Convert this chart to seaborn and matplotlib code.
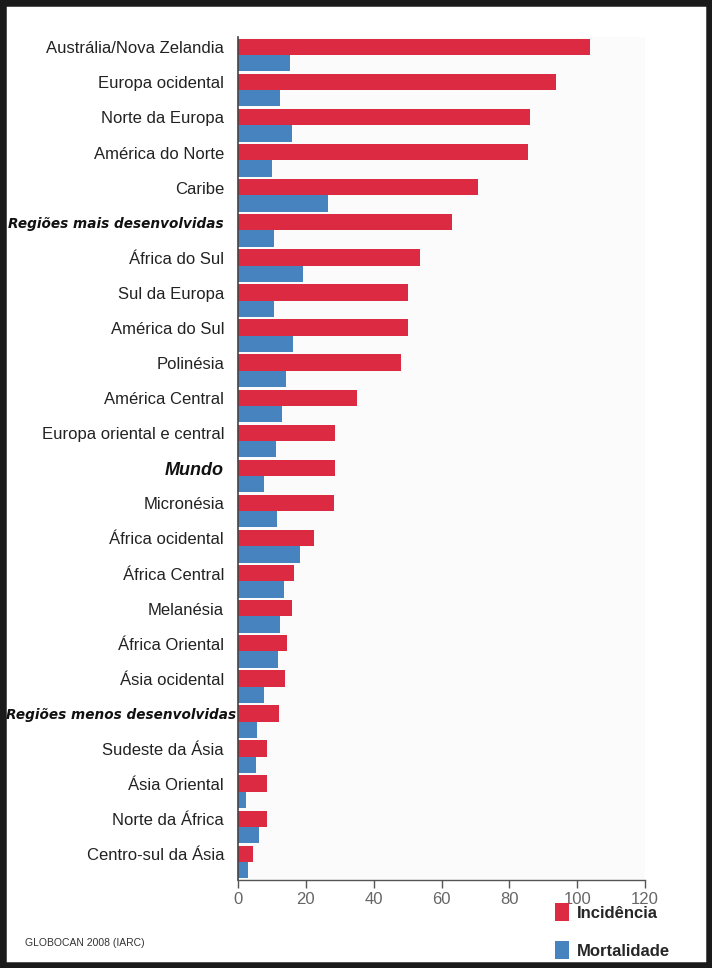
import matplotlib
matplotlib.use("Agg")
import matplotlib.pyplot as plt
import seaborn as sns
import pandas as pd
import numpy as np
from matplotlib.patches import Rectangle, Patch
from matplotlib.transforms import ScaledTranslation

regions = [
    "Austrália/Nova Zelandia", "Europa ocidental", "Norte da Europa", "América do Norte",
    "Caribe", "Regiões mais desenvolvidas", "África do Sul", "Sul da Europa",
    "América do Sul", "Polinésia", "América Central", "Europa oriental e central",
    "Mundo", "Micronésia", "África ocidental", "África Central", "Melanésia",
    "África Oriental", "Ásia ocidental", "Regiões menos desenvolvidas",
    "Sudeste da Ásia", "Ásia Oriental", "Norte da África", "Centro-sul da Ásia",
]
incidencia = [103.8, 93.8, 86.1, 85.5, 70.8, 63.1, 53.7, 50.1, 50.1, 48.1, 35.1, 28.6,
              28.6, 28.3, 22.4, 16.5, 15.9, 14.5, 13.9, 12.1, 8.6, 8.6, 8.6, 4.4]
mortalidade = [15.3, 12.4, 15.9, 10.0, 26.5, 10.6, 19.2, 10.6, 16.2, 14.2, 13.0, 11.2,
               7.7, 11.5, 18.3, 13.6, 12.4, 11.8, 7.7, 5.6, 5.3, 2.4, 6.2, 2.9]
series_names = ["Incidência", "Mortalidade"]
highlight_small = ["Regiões mais desenvolvidas", "Regiões menos desenvolvidas"]
highlight_big = ["Mundo"]
xticks = [0, 20, 40, 60, 80, 100, 120]

df = pd.DataFrame({
    "Região": regions * 2,
    "Valor": incidencia + mortalidade,
    "Série": [series_names[0]] * len(regions) + [series_names[1]] * len(regions),
})

sns.set_theme(style="white")
plt.rcParams["font.family"] = ["Liberation Sans", "DejaVu Sans"]

fig = plt.figure(figsize=(7.12, 9.68), dpi=100)
fig.patch.set_facecolor("white")
ax = fig.add_axes([238 / 712, 1 - 879.5 / 968, 407 / 712, 842 / 968])
ax.set_facecolor("#fbfbfb")

palette = {"Incidência": "#db2a41", "Mortalidade": "#4683bf"}
sns.barplot(data=df, y="Região", x="Valor", hue="Série", palette=palette,
            order=regions, hue_order=series_names, orient="h", width=0.93,
            gap=0, saturation=1, ax=ax, legend=False, linewidth=0)

ax.set_xlim(0, 120)
ax.set_xticks(xticks)
ax.set_xticklabels([str(t) for t in xticks], fontsize=12, color="#666666")
ax.tick_params(axis="x", direction="out", length=6, width=1, color="#555555", pad=3, bottom=True)
ax.set_xlabel("")
ax.set_ylabel("")

pos = np.arange(len(regions)) - 0.22
ax.set_yticks(pos)
ax.set_yticklabels(regions)
ax.tick_params(axis="y", length=0, pad=10)
for lab in ax.get_yticklabels():
    t = lab.get_text()
    if t in highlight_small:
        lab.set_family("DejaVu Sans")
        lab.set_fontweight("bold")
        lab.set_fontstyle("italic")
        lab.set_fontsize(9.8)
        lab.set_color("#111111")
        if t == highlight_small[1]:
            lab.set_transform(lab.get_transform() +
                              ScaledTranslation(12 / 100, 0, fig.dpi_scale_trans))
    elif t in highlight_big:
        lab.set_fontweight("bold")
        lab.set_fontstyle("italic")
        lab.set_fontsize(13)
        lab.set_color("#111111")
    else:
        lab.set_fontsize(12)
        lab.set_color("#222222")

for s in ["top", "right"]:
    ax.spines[s].set_visible(False)
ax.spines["left"].set_color("#444444")
ax.spines["left"].set_linewidth(1.2)
ax.spines["bottom"].set_color("#555555")
ax.spines["bottom"].set_linewidth(1)
ax.grid(False)

handles = [Patch(facecolor=palette[s], edgecolor="none") for s in series_names]
fig.legend(handles, series_names, loc="upper left",
           bbox_to_anchor=(540 / 712, 1 - 888 / 968), frameon=False,
           handlelength=0.85, handleheight=1.3, handletextpad=0.45, labelspacing=1.2,
           prop={"weight": "bold", "size": 12})

fig.text(25 / 712, 1 - 943 / 968, "GLOBOCAN 2008 (IARC)", fontsize=7.5,
         color="#333333", va="center", ha="left")

fig.patches.append(Rectangle((0, 0), 1, 1, transform=fig.transFigure, fill=False,
                             edgecolor="#1a1a1a", linewidth=9, zorder=10))

fig.savefig("out.png", dpi=100)
